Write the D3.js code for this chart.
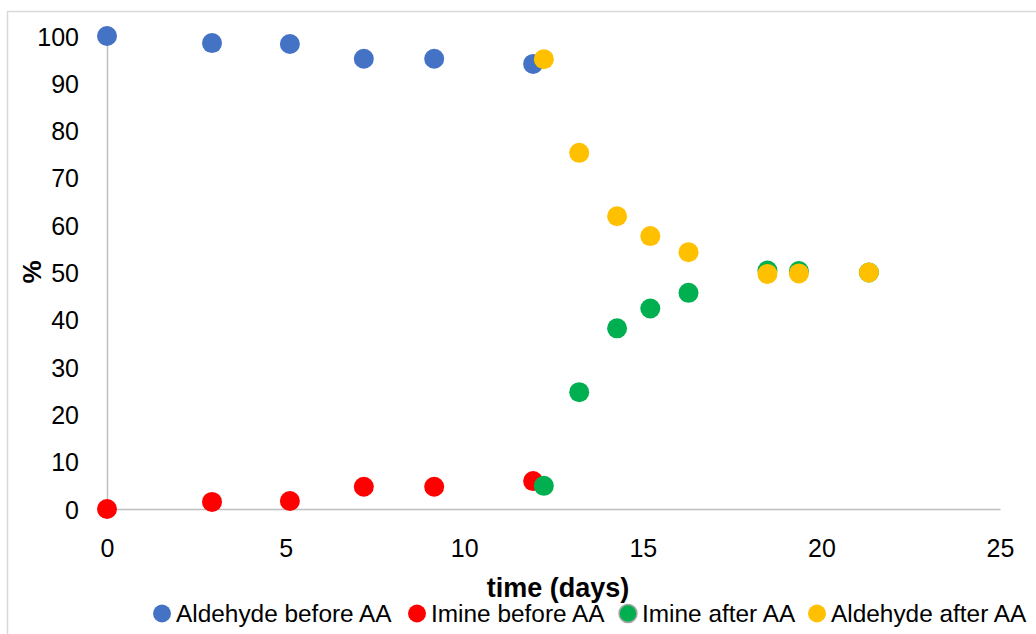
<!DOCTYPE html>
<html>
<head>
<meta charset="utf-8">
<script src="https://cdn.jsdelivr.net/npm/d3@7"></script>
<style>
  html, body { margin: 0; padding: 0; background: #fff; }
  svg { display: block; }
  text { font-family: "Liberation Sans", Arial, sans-serif; fill: #000; }
</style>
</head>
<body>
<svg id="chart" width="1036" height="634"></svg>
<script>
// ---- data ----
const aldBeforeX = [0, 2.94, 5.12, 7.19, 9.16, 11.93];
const aldBeforeY = [100, 98.5, 98.3, 95.2, 95.2, 94.1];
const imBeforeX = [0, 2.94, 5.12, 7.19, 9.16, 11.93];
const imBeforeY = [0, 1.5, 1.7, 4.7, 4.7, 5.9];
const imAfterX = [12.23, 13.22, 14.28, 15.21, 16.28, 18.49, 19.37, 21.33];
const imAfterY = [4.9, 24.7, 38.2, 42.4, 45.7, 50.4, 50.3, 50.0];
const aldAfterX = [12.23, 13.22, 14.28, 15.21, 16.28, 18.49, 19.37, 21.33];
const aldAfterY = [95.1, 75.3, 61.9, 57.7, 54.3, 49.7, 49.8, 50.0];
const seriesNames = ["Aldehyde before AA", "Imine before AA", "Imine after AA", "Aldehyde after AA"];
const seriesColors = ["#4472C4", "#FF0000", "#00B050", "#FFC000"];
const xTicks = [0, 5, 10, 15, 20, 25];
const yTicks = [0, 10, 20, 30, 40, 50, 60, 70, 80, 90, 100];
const xTitle = "time (days)";
const yTitle = "%";

const series = [
  { name: seriesNames[0], color: seriesColors[0], pts: aldBeforeX.map((x, i) => [x, aldBeforeY[i]]) },
  { name: seriesNames[1], color: seriesColors[1], pts: imBeforeX.map((x, i) => [x, imBeforeY[i]]) },
  { name: seriesNames[2], color: seriesColors[2], pts: imAfterX.map((x, i) => [x, imAfterY[i]]) },
  { name: seriesNames[3], color: seriesColors[3], pts: aldAfterX.map((x, i) => [x, aldAfterY[i]]) }
];

const svg = d3.select("#chart");

// chart frame
svg.append("rect")
  .attr("x", 7.5).attr("y", 11.5)
  .attr("width", 1200).attr("height", 800)
  .attr("fill", "#fff").attr("stroke", "#D9D9D9").attr("stroke-width", 1.5);

const x = d3.scaleLinear().domain([0, 25]).range([107, 1000]);
const y = d3.scaleLinear().domain([0, 100]).range([509, 36]);

// y axis
const yAxis = svg.append("g").attr("transform", `translate(${x(0)},0)`)
  .call(d3.axisLeft(y).tickValues(yTicks).tickSize(0).tickPadding(28).tickFormat(d3.format("d")));
yAxis.select(".domain").attr("stroke", "#BFBFBF").attr("stroke-width", 1.5);
yAxis.selectAll("text").attr("font-size", 25).attr("dy", "0.36em")
  .style("font-family", "'Liberation Sans', Arial, sans-serif").attr("fill", "#000");

// x axis
const xAxis = svg.append("g").attr("transform", `translate(0,${y(0)})`)
  .call(d3.axisBottom(x).tickValues(xTicks).tickSize(0).tickPadding(30).tickFormat(d3.format("d")));
xAxis.select(".domain").attr("stroke", "#BFBFBF").attr("stroke-width", 1.5);
xAxis.selectAll("text").attr("font-size", 25).attr("dy", "0.36em").attr("y", 39)
  .style("font-family", "'Liberation Sans', Arial, sans-serif").attr("fill", "#000");

// axis titles
svg.append("text")
  .attr("x", 558).attr("y", 597)
  .attr("text-anchor", "middle")
  .attr("font-size", 27).attr("font-weight", "bold")
  .text(xTitle);

svg.append("text")
  .attr("transform", "translate(41,272) rotate(-90)")
  .attr("text-anchor", "middle")
  .attr("font-size", 26).attr("font-weight", "bold")
  .text(yTitle);

// points
series.forEach(s => {
  svg.append("g").selectAll("circle")
    .data(s.pts).enter().append("circle")
    .attr("cx", d => x(d[0]))
    .attr("cy", d => y(d[1]))
    .attr("r", 10)
    .attr("fill", s.color);
});

// legend
const legendMarkerX = [162, 417, 628, 817];
const legend = svg.append("g");
series.forEach((s, i) => {
  legend.append("circle")
    .attr("cx", legendMarkerX[i]).attr("cy", 613.5).attr("r", 9)
    .attr("fill", s.color)
    .attr("stroke", i === 2 ? "#A5A5A5" : "none")
    .attr("stroke-width", 1.5);
  legend.append("text")
    .attr("x", legendMarkerX[i] + 14).attr("y", 621.5)
    .attr("font-size", 24.4)
    .text(s.name);
});
</script>
</body>
</html>
